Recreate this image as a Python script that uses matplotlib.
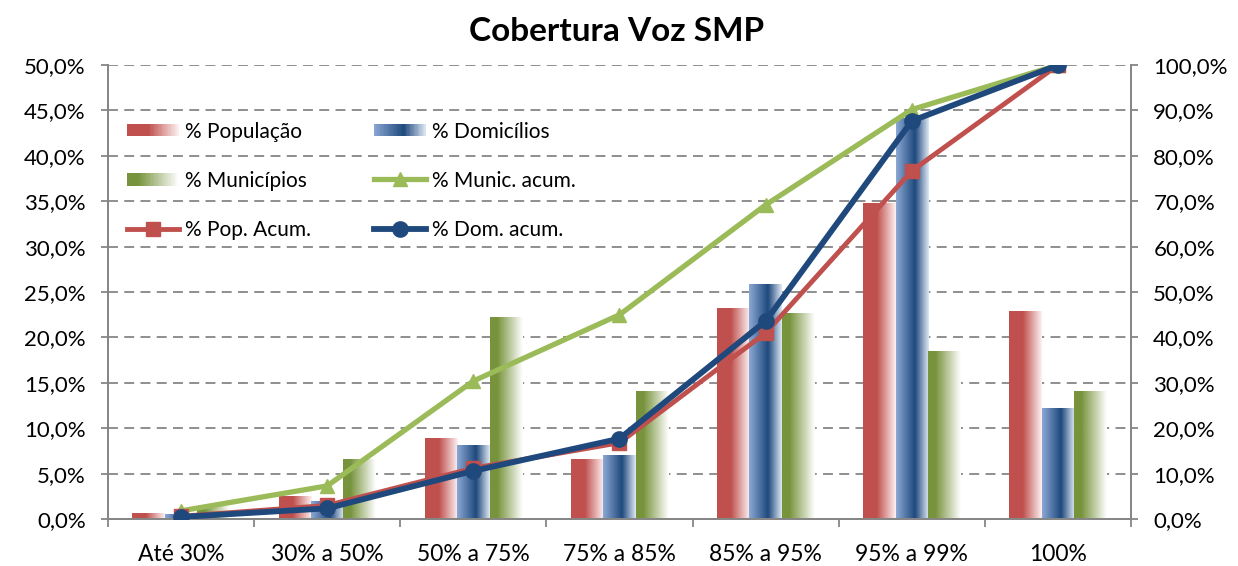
#!/usr/bin/env python3
"""Cobertura Voz SMP - barras com gradiente + linhas acumuladas (eixo direito)."""

import numpy as np
import matplotlib
matplotlib.use('Agg')
import matplotlib.pyplot as plt
from matplotlib.colors import LinearSegmentedColormap
from matplotlib.legend_handler import HandlerBase
from matplotlib.patches import Rectangle
from matplotlib.lines import Line2D
from matplotlib.ticker import FuncFormatter

# Dados
categorias = ['Até 30%', '30% a 50%', '50% a 75%', '75% a 85%', '85% a 95%', '95% a 99%', '100%']
pct_populacao = [0.6, 2.45, 8.9, 6.5, 23.2, 34.8, 22.9]
pct_domicilios = [0.45, 1.9, 8.15, 7.0, 25.8, 44.1, 12.2]
pct_municipios = [1.4, 6.6, 22.2, 14.0, 22.65, 18.4, 14.0]
munic_acum = [1.8, 7.3, 30.4, 45.0, 69.2, 90.2, 100.0]
pop_acum = [0.6, 3.0, 11.2, 16.8, 41.0, 76.7, 100.0]
dom_acum = [0.45, 2.35, 10.6, 17.7, 43.6, 87.7, 100.0]

plt.rcParams['font.family'] = ['Lato', 'DejaVu Sans']

RED, BLUE, GREEN = '#C0504D', '#1F497D', '#77933C'
LGREEN = '#9BBB59'
cmap_red = LinearSegmentedColormap.from_list('r', [(0, RED), (0.42, RED), (1, '#FCF0F0')])
cmap_blue = LinearSegmentedColormap.from_list('b', [(0, '#8BA8D4'), (0.58, BLUE), (1, '#DCE6F2')])
cmap_green = LinearSegmentedColormap.from_list('g', [(0, GREEN), (0.22, GREEN), (1, '#FFFFFF')])
grad = np.linspace(0, 1, 64).reshape(1, -1)

# estilos das linhas acumuladas
st_mun = dict(color=LGREEN, lw=3.8, marker='^', ms=10.5)
st_pop = dict(color=RED, lw=3.5, marker='s', ms=9.5)
st_dom = dict(color=BLUE, lw=4.2, marker='o', ms=11)


class GradientHandler(HandlerBase):
    """Retângulo com gradiente horizontal para a legenda."""
    def __init__(self, cmap, n=40):
        super().__init__()
        self.cmap = cmap
        self.n = n

    def create_artists(self, legend, orig_handle, xdescent, ydescent,
                       width, height, fontsize, trans):
        arts = []
        h = height * 0.85
        y0 = -ydescent + (height - h) / 2
        for i in range(self.n):
            r = Rectangle((-xdescent + width * i / self.n, y0), width / self.n * 1.05, h,
                          facecolor=self.cmap((i + 0.5) / self.n), edgecolor='none',
                          transform=trans)
            arts.append(r)
        return arts


fig = plt.figure(figsize=(12.38, 5.66), dpi=100)
ax = fig.add_axes([0.0872, 0.083, 0.8264, 0.802])
ax2 = ax.twinx()

x = np.arange(len(categorias))
w = 0.222
series = [(pct_populacao, cmap_red, -w), (pct_domicilios, cmap_blue, 0), (pct_municipios, cmap_green, w)]
for vals, cmap, off in series:
    bars = ax.bar(x + off, np.array(vals) / 100, width=w, color='none', edgecolor='none')
    for b in bars:
        bx, bw, bh = b.get_x(), b.get_width(), b.get_height()
        ax.imshow(grad, cmap=cmap, extent=[bx, bx + bw, 0, bh], aspect='auto',
                  interpolation='bilinear', zorder=2)

ax.set_xlim(-0.5, len(categorias) - 0.5)
ax.set_ylim(0, 0.5)
ax.set_yticks(np.arange(0, 0.501, 0.05))
ax.set_axisbelow(True)
ax.yaxis.grid(True, color='#868686', linestyle=(0, (5.5, 3.5)), linewidth=1.3)

pct_fmt = FuncFormatter(lambda v, p: f'{v * 100:.1f}%'.replace('.', ','))
ax.yaxis.set_major_formatter(pct_fmt)

ax2.plot(x, np.array(munic_acum) / 100, zorder=3, **st_mun)
ax2.plot(x, np.array(pop_acum) / 100, zorder=4, **st_pop)
ax2.plot(x, np.array(dom_acum) / 100, zorder=5, **st_dom)
ax2.set_ylim(0, 1)
ax2.set_yticks(np.arange(0, 1.001, 0.1))
ax2.yaxis.set_major_formatter(pct_fmt)

ax.set_xticks(x)
ax.set_xticklabels(categorias)
ax.set_xticks(np.arange(-0.5, len(categorias)), minor=True)
ax.tick_params(axis='x', which='major', length=0, pad=18, labelsize=16.5)
ax.tick_params(axis='x', which='minor', length=6, width=1.3, color='#868686')
ax.tick_params(axis='y', length=5, width=1.3, color='#868686', pad=11, labelsize=16)
ax2.tick_params(axis='y', length=5, width=1.3, color='#868686', pad=11, labelsize=16)

for a in (ax, ax2):
    a.spines['top'].set_visible(False)
    for s in ('left', 'right', 'bottom'):
        a.spines[s].set_color('#868686')
        a.spines[s].set_linewidth(1.3)

fig.text(0.498, 0.945, 'Cobertura Voz SMP', ha='center', va='center',
         fontsize=24, fontweight='bold')

# Legenda
h_pop = Rectangle((0, 0), 1, 1)
h_dom = Rectangle((0, 0), 1, 1)
h_mun = Rectangle((0, 0), 1, 1)
handles = [h_pop, h_mun, Line2D([], [], **st_pop),
           h_dom, Line2D([], [], **st_mun), Line2D([], [], **st_dom)]
labels = ['% População', '% Municípios', '% Pop. Acum.', '% Domicílios', '% Munic. acum.', '% Dom. acum.']
ax2.legend(handles, labels, ncol=2, loc='upper left', bbox_to_anchor=(0.0, 0.917),
           frameon=False, fontsize=15, handlelength=2.5, handletextpad=0.3,
           labelspacing=1.4, columnspacing=3.0,
           handler_map={h_pop: GradientHandler(cmap_red),
                        h_dom: GradientHandler(cmap_blue),
                        h_mun: GradientHandler(cmap_green)})

fig.savefig('out.png', dpi=100)
